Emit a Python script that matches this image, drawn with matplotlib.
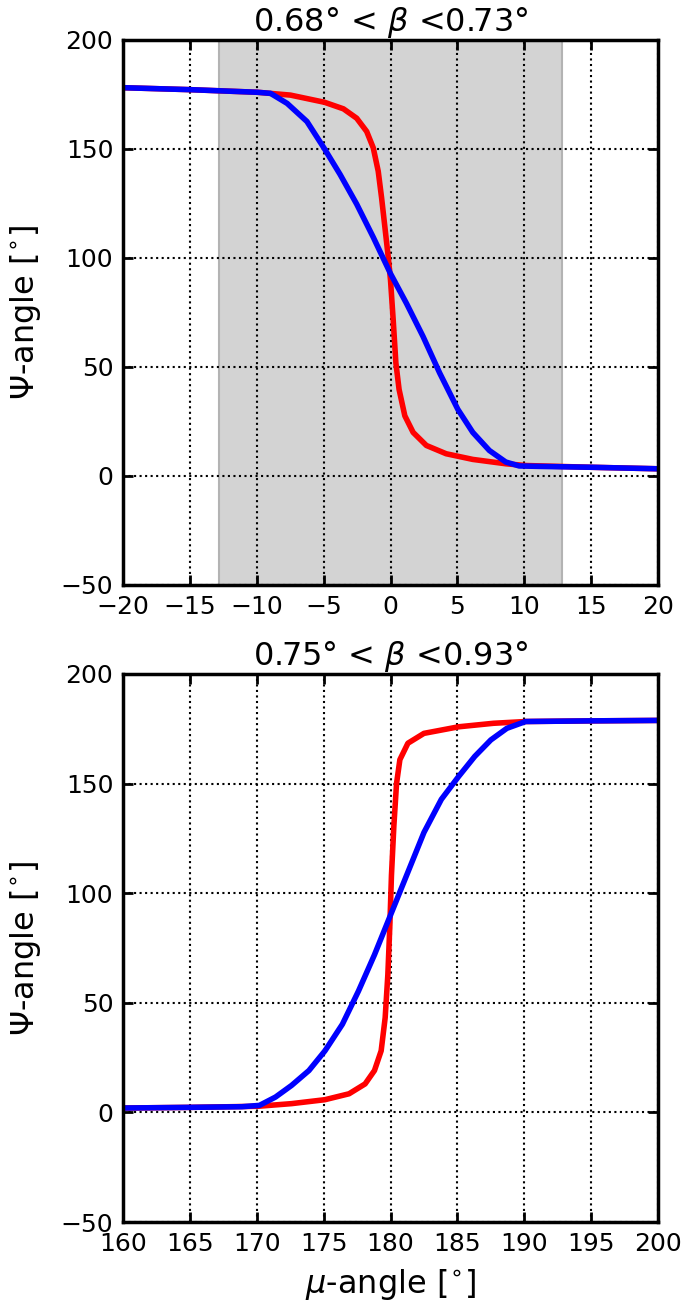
import numpy as np
import matplotlib as mpl
mpl.use('Agg')
from matplotlib import pyplot as plt

# top panel: mu around 0 deg
mu_top_r = [-20, -15, -9.96, -7.48, -4.93, -3.52, -2.53, -1.78, -1.29, -0.92, -0.67, -0.42, -0.17, 0.0,
            0.2, 0.4, 0.64, 1.07, 1.69, 2.68, 4.16, 6.15, 8.62, 10.1, 15, 20]
psi_top_r = [178.1, 177.2, 176.0, 174.7, 171.4, 168.4, 164.1, 158.0, 150.5, 139.8, 127.7, 114.1, 100.4, 89.8,
             71.6, 51.9, 39.7, 27.6, 20.0, 14.0, 10.2, 7.6, 5.6, 4.8, 4.0, 3.3]

mu_top_b = [-20, -15, -9.96, -8.97, -7.73, -6.25, -4.93, -3.77, -2.53, -1.29, 0.0, 1.19, 2.43, 3.67,
            5.03, 6.15, 7.39, 8.62, 9.62, 11.1, 15, 20]
psi_top_b = [178.1, 177.2, 176.0, 175.5, 170.9, 162.6, 150.0, 138.3, 124.7, 109.5, 92.8, 79.2, 64.0, 47.3,
             30.6, 20.0, 11.7, 6.4, 4.6, 4.4, 4.0, 3.3]

span_top = (-12.85, 12.85)

# bottom panel: mu around 180 deg
mu_bot_r = [160, 165, 170.1, 172.6, 175.1, 176.9, 178.1, 178.8, 179.3, 179.6, 179.8, 179.95, 180.07,
            180.25, 180.45, 180.7, 181.3, 182.5, 185.1, 187.7, 190.1, 195, 200]
psi_bot_r = [2.0, 2.3, 2.8, 4.0, 5.8, 8.5, 13.0, 19.1, 28.1, 43.2, 62.8, 85.4, 108.1,
             130.7, 150.0, 160.9, 168.4, 172.9, 175.9, 177.5, 178.3, 178.6, 178.8]

mu_bot_b = [160, 165, 168.9, 170.2, 171.4, 172.6, 173.9, 175.1, 176.4, 177.6, 178.8, 180.0, 181.3,
            182.5, 183.8, 185.1, 186.3, 187.5, 188.7, 190.1, 195, 200]
psi_bot_b = [2.0, 2.3, 2.6, 3.2, 7.0, 12.3, 19.1, 28.1, 40.2, 55.3, 71.9, 90.0, 109.6,
             127.7, 142.8, 153.3, 162.4, 169.9, 175.2, 178.3, 178.6, 178.8]

titles = ['0.68\u00b0 < $\\beta$ <0.73\u00b0', '0.75\u00b0 < $\\beta$ <0.93\u00b0']

plt.rcParams['font.size'] = 18
plt.rcParams['xtick.direction'] = 'in'
plt.rcParams['ytick.direction'] = 'in'
plt.rcParams['xtick.top'] = True
plt.rcParams['ytick.right'] = True
plt.rcParams['xtick.major.size'] = 7
plt.rcParams['ytick.major.size'] = 7
plt.rcParams['xtick.major.width'] = 2
plt.rcParams['ytick.major.width'] = 2
plt.rcParams['xtick.major.pad'] = 7
plt.rcParams['ytick.major.pad'] = 7

fig = plt.figure(figsize=(6.85, 13.14), dpi=100)
ax1 = fig.add_axes([0.1796, 0.5548, 0.781, 0.4148])
ax2 = fig.add_axes([0.1796, 0.0700, 0.781, 0.4171])

ax1.axvspan(span_top[0], span_top[1], facecolor='lightgray', edgecolor='0.7', lw=1.5)
ax1.plot(mu_top_r, psi_top_r, color='red', lw=4)
ax1.plot(mu_top_b, psi_top_b, color='blue', lw=4)
ax1.set_xlim(-20, 20)
ax1.set_xticks(np.arange(-20, 21, 5))

ax2.plot(mu_bot_r, psi_bot_r, color='red', lw=4)
ax2.plot(mu_bot_b, psi_bot_b, color='blue', lw=4)
ax2.set_xlim(160, 200)
ax2.set_xticks(np.arange(160, 201, 5))
ax2.set_xlabel(r'$\mu$-angle [$^{\circ}$]', fontsize=23, labelpad=8)

for ax, t in zip([ax1, ax2], titles):
    ax.set_ylim(-50, 200)
    ax.set_yticks(np.arange(-50, 201, 50))
    ax.grid(True, color='k', linestyle=':', lw=1.5)
    ax.set_ylabel(r'$\Psi$-angle [$^{\circ}$]', fontsize=23, labelpad=13)
    ax.set_title(t, fontsize=23, pad=6)
    for s in ax.spines.values():
        s.set_linewidth(2.5)

plt.savefig('out.png', dpi=100)
